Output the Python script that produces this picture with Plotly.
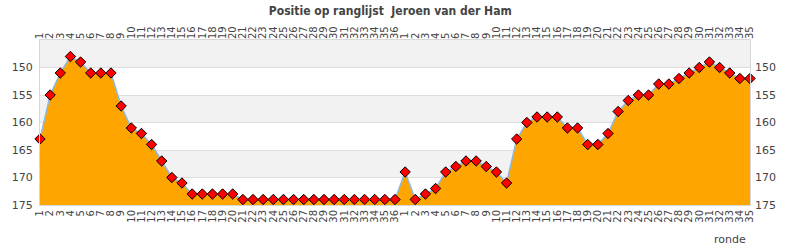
import plotly.graph_objects as go

season1 = [163, 155, 151, 148, 149, 151, 151, 151, 157, 161, 162, 164, 167, 170, 171,
           173, 173, 173, 173, 173, 174, 174, 174, 174, 174, 174, 174, 174, 174, 174,
           174, 174, 174, 174, 174, 174]
season2 = [169, 174, 173, 172, 169, 168, 167, 167, 168, 169, 171, 163, 160, 159, 159,
           159, 161, 161, 164, 164, 162, 158, 156, 155, 155, 153, 153, 152, 151, 150,
           149, 150, 151, 152, 152]
rounds1 = [str(i) for i in range(1, 37)]
rounds2 = [str(i) for i in range(1, 36)]

values = season1 + season2
labels = rounds1 + rounds2
xs = list(range(len(values)))
ytick_vals = [150, 155, 160, 165, 170, 175]
y_bottom = 175
y_top = 145

fig = go.Figure()
fig.add_trace(go.Scatter(x=xs, y=[y_bottom] * len(xs), mode="lines",
                         line=dict(width=0), hoverinfo="skip", showlegend=False))
fig.add_trace(go.Scatter(x=xs, y=values, mode="lines+markers", fill="tonexty",
                         fillcolor="#FFA500",
                         line=dict(color="#8fb8e0", width=1.5),
                         marker=dict(symbol="diamond", size=8, color="#ff0000",
                                     line=dict(color="#000000", width=1)),
                         cliponaxis=False, showlegend=False))
# invisible trace for the secondary (top/right) axes
fig.add_trace(go.Scatter(x=xs, y=values, xaxis="x2", yaxis="y2", mode="markers",
                         marker=dict(opacity=0), hoverinfo="skip", showlegend=False))

# alternating bands
for lo, hi in [(145, 150), (155, 160), (165, 170)]:
    fig.add_shape(type="rect", xref="paper", yref="y", x0=0, x1=1, y0=lo, y1=hi,
                  fillcolor="#f2f2f2", line=dict(width=0), layer="below")

tickfont_x = dict(family="DejaVu Sans", size=10, color="#444444")
tickfont_y = dict(family="DejaVu Sans", size=11, color="#444444")

common_x = dict(tickmode="array", tickvals=xs, ticktext=labels, tickangle=-90,
                range=[0, len(xs) - 1], showgrid=False, zeroline=False,
                ticks="", ticklen=0, tickfont=tickfont_x)
common_y = dict(range=[y_bottom, y_top], tickmode="array", tickvals=ytick_vals,
                zeroline=False, ticks="", tickfont=tickfont_y, ticklabelstandoff=4)

fig.update_layout(
    width=790, height=250,
    margin=dict(l=40, r=40, t=40, b=45),
    paper_bgcolor="white", plot_bgcolor="white",
    title=dict(text="<b>Positie op ranglijst  Jeroen van der Ham</b>",
               x=0.494, xanchor="center", y=0.955, yanchor="middle",
               font=dict(family="DejaVu Sans Condensed", size=12, color="#444444")),
    xaxis=dict(**common_x, side="bottom", showline=True, linecolor="#d8d8d8",
               mirror=True),
    xaxis2=dict(**common_x, side="top", overlaying="x", anchor="y"),
    yaxis=dict(**common_y, side="left", showgrid=True, gridcolor="#dddddd",
               gridwidth=1, showline=True, linecolor="#d8d8d8", mirror=True),
    yaxis2=dict(**common_y, side="right", overlaying="y", anchor="x", showgrid=False),
    annotations=[dict(text="ronde", xref="paper", yref="paper", x=0.997, y=-0.21,
                      xanchor="right", yanchor="middle", showarrow=False,
                      font=dict(family="DejaVu Sans", size=11, color="#444444"))],
)

fig.write_html("out.html")
